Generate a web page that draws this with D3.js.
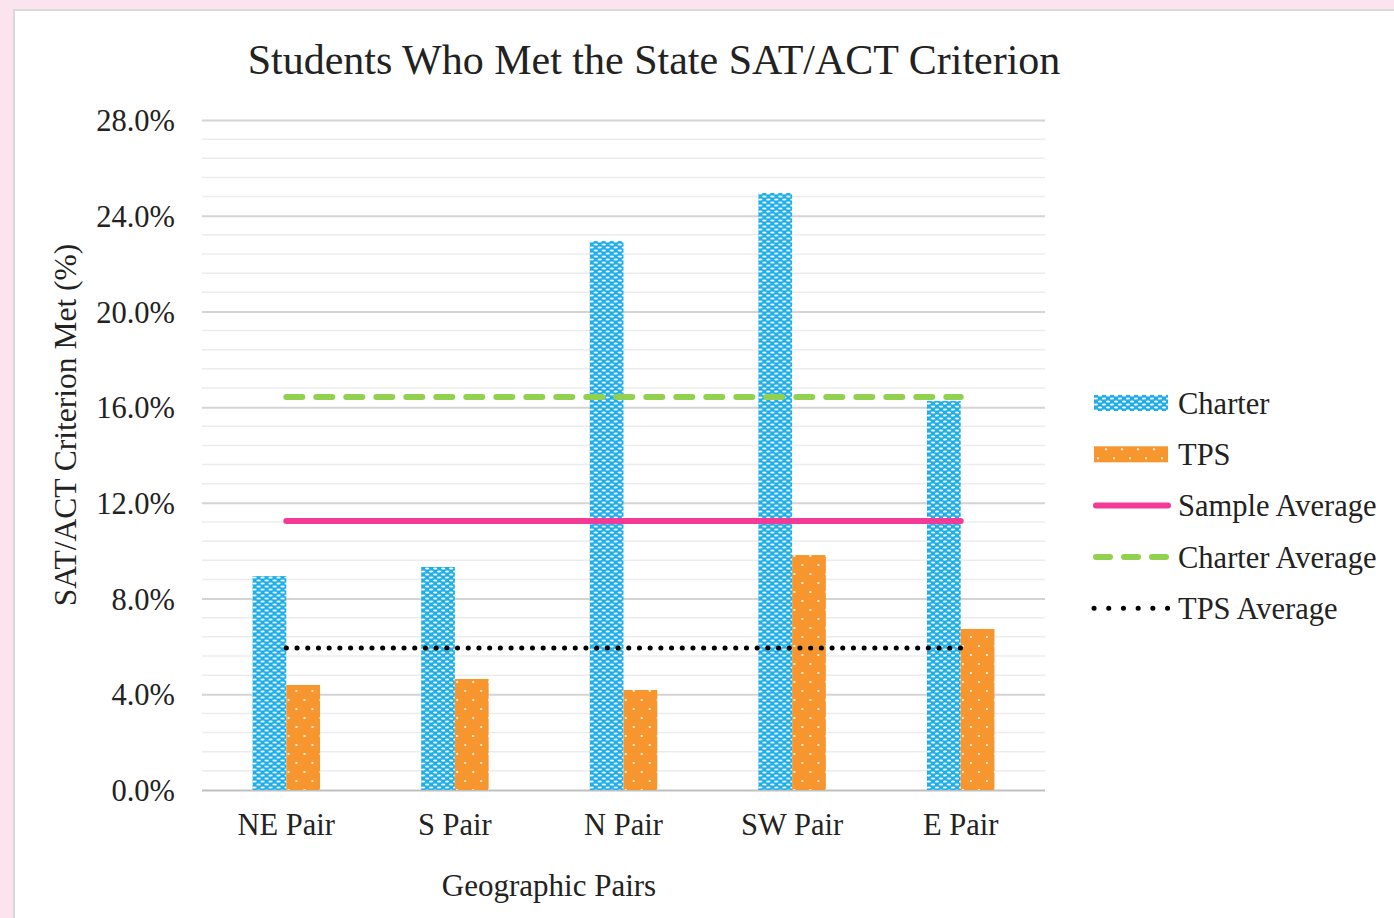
<!DOCTYPE html>
<html>
<head>
<meta charset="utf-8">
<script src="https://cdn.jsdelivr.net/npm/d3@7"></script>
<style>
  html, body { margin: 0; padding: 0; background: #fbe4ee; }
  svg { display: block; }
  text { font-family: "Liberation Serif", "Times New Roman", serif; fill: #222; }
</style>
</head>
<body>
<div id="root"></div>
<script>
const categories = ["NE Pair", "S Pair", "N Pair", "SW Pair", "E Pair"]
const charterValues = [8.94, 9.32, 22.94, 24.95, 16.26]
const tpsValues = [4.39, 4.64, 4.18, 9.82, 6.73]
const sampleAverage = 11.24
const charterAverage = 16.42
const tpsAverage = 5.93
const yTicks = [0, 4, 8, 12, 16, 20, 24, 28]
const legendLabels = ["Charter", "TPS", "Sample Average", "Charter Average", "TPS Average"]

function drawChart() {
  const width = 1394
  const height = 918
  const margin = { top: 120, right: 349, bottom: 128, left: 202 }
  const boundedWidth = width - margin.left - margin.right
  const boundedHeight = height - margin.top - margin.bottom

  const svg = d3.select("#root").append("svg")
    .attr("width", width)
    .attr("height", height)

  // patterns for the bars
  const defs = svg.append("defs")
  const blue = defs.append("pattern")
    .attr("id", "charterPat")
    .attr("patternUnits", "userSpaceOnUse")
    .attr("width", 8).attr("height", 6)
  blue.append("rect").attr("width", 8).attr("height", 6).attr("fill", "#1eaee8")
  blue.append("ellipse").attr("cx", 2).attr("cy", 1.5).attr("rx", 2.1).attr("ry", 1.1).attr("fill", "#fff")
  blue.append("ellipse").attr("cx", 6).attr("cy", 4.5).attr("rx", 2.1).attr("ry", 1.1).attr("fill", "#fff")

  const orange = defs.append("pattern")
    .attr("id", "tpsPat")
    .attr("patternUnits", "userSpaceOnUse")
    .attr("width", 16).attr("height", 18)
  orange.append("rect").attr("width", 16).attr("height", 18).attr("fill", "#f7962f")
  orange.append("circle").attr("cx", 4).attr("cy", 4).attr("r", 1.1).attr("fill", "#fff")
  orange.append("circle").attr("cx", 12).attr("cy", 13).attr("r", 1.1).attr("fill", "#fff")

  // white panel
  svg.append("rect")
    .attr("x", 14).attr("y", 10)
    .attr("width", width).attr("height", height)
    .attr("fill", "#fff")
    .attr("stroke", "#d9d9d9")
    .attr("stroke-width", 2)

  const bounds = svg.append("g")
    .attr("transform", `translate(${margin.left},${margin.top})`)

  const xScale = d3.scaleBand()
    .domain(categories)
    .range([0, boundedWidth])

  const yScale = d3.scaleLinear()
    .domain([0, 28])
    .range([boundedHeight, 0])

  // minor gridlines
  bounds.append("g")
    .selectAll("line")
    .data(d3.range(0, 28.01, 0.8).filter(v => Math.abs(v / 4 - Math.round(v / 4)) > 0.01))
    .join("line")
    .attr("x1", 0).attr("x2", boundedWidth)
    .attr("y1", d => yScale(d)).attr("y2", d => yScale(d))
    .attr("stroke", "#ececec")
    .attr("stroke-width", 1.5)

  // major gridlines
  const yAxis = bounds.append("g")
    .call(d3.axisLeft(yScale).tickValues(yTicks).tickSize(-boundedWidth).tickFormat(d => d.toFixed(1) + "%"))
  yAxis.select(".domain").remove()
  yAxis.selectAll(".tick line")
    .attr("stroke", d => d === 0 ? "#bfbfbf" : "#d4d4d4")
    .attr("stroke-width", 2)
  yAxis.selectAll(".tick text")
    .attr("x", -27)
    .attr("dy", "0.35em")
    .style("font-size", "30.5px")
    .style("font-family", "Liberation Serif")
    .attr("fill", "#222")

  // bars
  const inner = d3.scaleBand()
    .domain(["charter", "tps"])
    .range([0, 67.5])

  const barGroups = bounds.append("g")
    .selectAll("g")
    .data(categories.map((c, i) => ({ c, charter: charterValues[i], tps: tpsValues[i] })))
    .join("g")
    .attr("transform", d => `translate(${xScale(d.c) + xScale.bandwidth() / 2 - 33.75},0)`)

  barGroups.selectAll("rect")
    .data(d => [{ k: "charter", v: d.charter }, { k: "tps", v: d.tps }])
    .join("rect")
    .attr("x", d => inner(d.k))
    .attr("y", d => yScale(d.v))
    .attr("width", inner.bandwidth())
    .attr("height", d => boundedHeight - yScale(d.v))
    .attr("fill", d => d.k === "charter" ? "url(#charterPat)" : "url(#tpsPat)")

  // average lines
  const x0 = xScale(categories[0]) + xScale.bandwidth() / 2
  const x1 = xScale(categories[categories.length - 1]) + xScale.bandwidth() / 2
  const lineStyles = [
    { v: sampleAverage, color: "#f23a96", dash: null, legendDash: null },
    { v: charterAverage, color: "#92d050", dash: "16 14", legendDash: "14 14" },
    { v: tpsAverage, color: "#000", dash: "0.1 10.6", legendDash: "0.1 14.6", w: 5 },
  ]
  bounds.append("g")
    .selectAll("line")
    .data(lineStyles)
    .join("line")
    .attr("x1", x0).attr("x2", x1)
    .attr("y1", d => yScale(d.v)).attr("y2", d => yScale(d.v))
    .attr("stroke", d => d.color)
    .attr("stroke-width", d => d.w || 6)
    .attr("stroke-linecap", "round")
    .attr("stroke-dasharray", d => d.dash)

  // x labels
  bounds.append("g")
    .selectAll("text")
    .data(categories)
    .join("text")
    .attr("x", d => xScale(d) + xScale.bandwidth() / 2)
    .attr("y", boundedHeight + 45)
    .attr("text-anchor", "middle")
    .style("font-size", "30.5px")
    .text(d => d)

  // titles
  svg.append("text")
    .attr("x", 654).attr("y", 74)
    .attr("text-anchor", "middle")
    .style("font-size", "42px")
    .text("Students Who Met the State SAT/ACT Criterion")

  svg.append("text")
    .attr("x", 549).attr("y", 896)
    .attr("text-anchor", "middle")
    .style("font-size", "31px")
    .text("Geographic Pairs")

  svg.append("text")
    .attr("transform", "translate(76,425) rotate(-90)")
    .attr("text-anchor", "middle")
    .style("font-size", "31.5px")
    .text("SAT/ACT Criterion Met (%)")

  // legend
  const legend = svg.append("g").attr("transform", "translate(1094,403)")
  const items = legend.selectAll("g")
    .data(legendLabels)
    .join("g")
    .attr("transform", (d, i) => `translate(0,${i * 51.3})`)

  items.filter((d, i) => i < 2).append("rect")
    .attr("x", 0).attr("y", -8)
    .attr("width", 74).attr("height", 16)
    .attr("fill", (d, i) => i === 0 ? "url(#charterPat)" : "url(#tpsPat)")

  items.filter((d, i) => i >= 2).append("line")
    .attr("x1", (d, i) => i === 2 ? 0 : 2).attr("x2", 74)
    .attr("y1", 0).attr("y2", 0)
    .attr("stroke", (d, i) => lineStyles[i].color)
    .attr("stroke-width", (d, i) => lineStyles[i].w || 6)
    .attr("stroke-linecap", "round")
    .attr("stroke-dasharray", (d, i) => lineStyles[i].legendDash)

  items.append("text")
    .attr("x", 84).attr("y", 0)
    .attr("dy", "0.35em")
    .style("font-size", "30.5px")
    .text(d => d)
}

drawChart()
</script>
</body>
</html>
